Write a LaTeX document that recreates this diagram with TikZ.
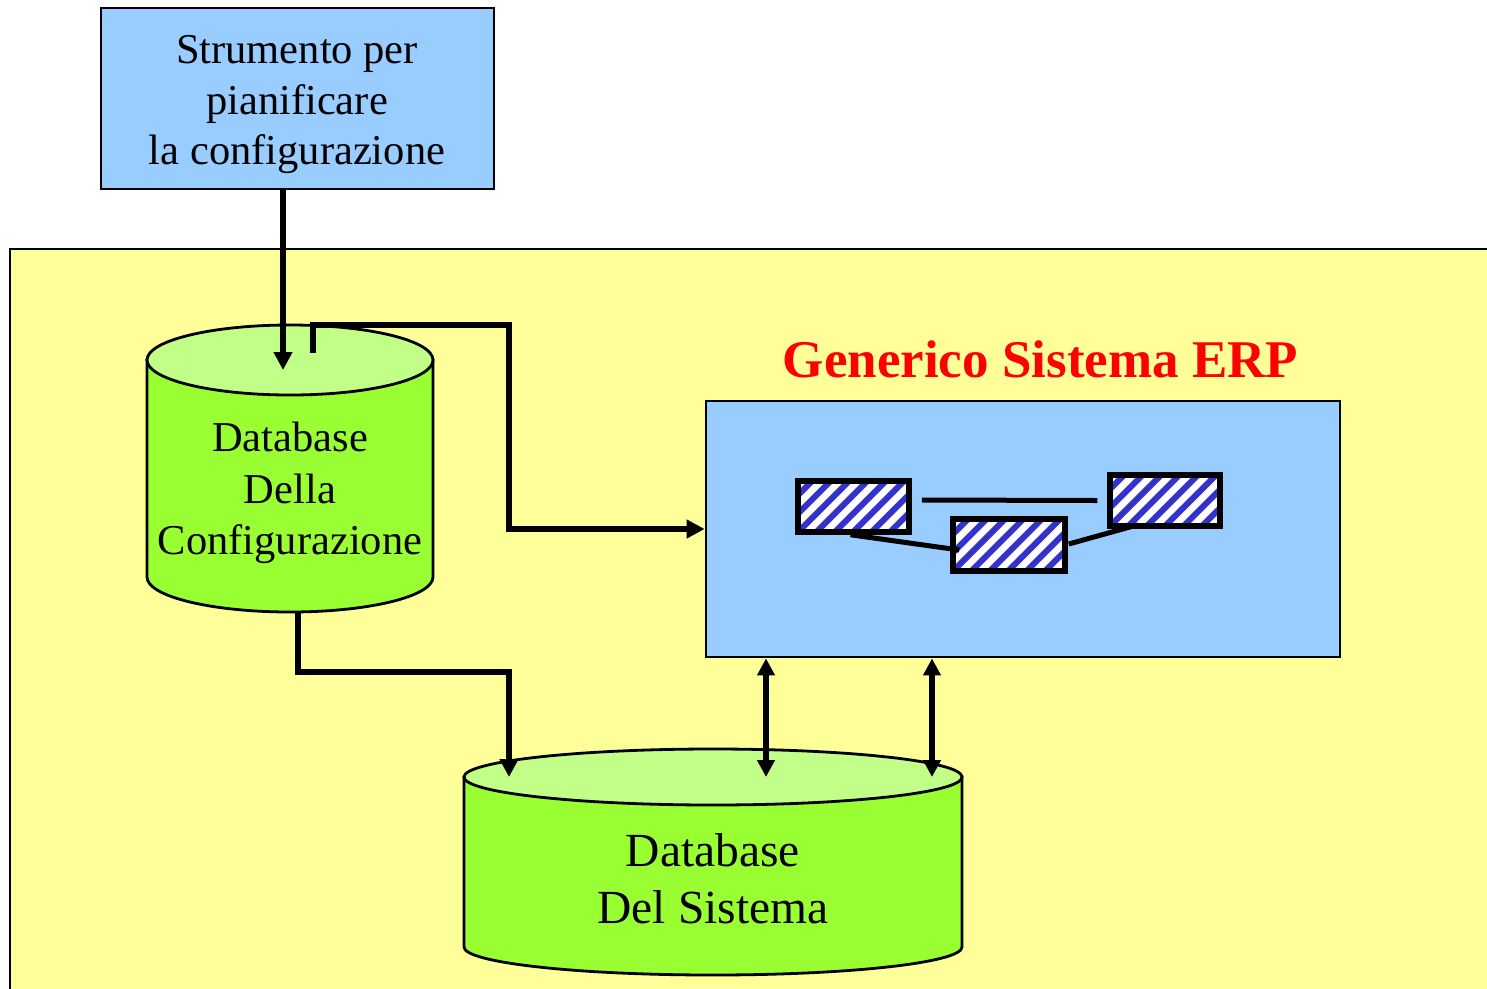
\documentclass[tikz,border=0pt]{standalone}
\usepackage{fontspec}
\setmainfont{Liberation Serif}
\usetikzlibrary{arrows.meta}
\definecolor{boxblue}{HTML}{99CCFF}
\definecolor{paleyellow}{HTML}{FFFF99}
\definecolor{dbgreen}{HTML}{99FF33}
\definecolor{dbtop}{HTML}{C2FF88}
\definecolor{stripeblue}{HTML}{3333CC}
\tikzset{
  panel/.style={draw=black, line width=2.8pt, fill=boxblue, inner sep=0pt},
  label/.style={align=center, inner sep=0pt},
  wire/.style={line width=5.5pt, line join=miter},
  arr/.style={wire, -{Triangle[length=18pt,width=18pt]}},
  dblarr/.style={wire, {Triangle[length=17pt,width=17pt]}-{Triangle[length=17pt,width=17pt]}},
  module/.style={draw=black, line width=5.5pt, inner sep=0pt, fill=white,
    path picture={
      \foreach \k in {-4,...,7}
        \draw[stripeblue, line width=6pt]
          ([xshift=\k*18.4pt]path picture bounding box.south west) -- ++(80,-80);
    }},
  dbline/.style={draw=black, line width=2.8pt}
}
\begin{document}
\begin{tikzpicture}[x=1pt,y=-1pt]
\useasboundingbox (0,0) rectangle (1487,988);
\clip (0,0) rectangle (1487,988);

% yellow system area
\draw[line width=2.8pt, fill=paleyellow] (10,249) rectangle (1500,1000);

% planning tool
\node[panel, minimum width=393pt, minimum height=181pt] (tool) at (297.5,98.5) {};
\node[label, font=\fontsize{42.5}{50.5}\selectfont] (tooltext) at (297,105)
  {Strumento per\\pianificare\\la configurazione};

% configuration database (cylinder)
\coordinate (cfgtop) at (290,360);
\path[dbline, fill=dbgreen] (147,360) -- (147,577)
  arc[start angle=180, end angle=0, x radius=143, y radius=35] -- (433,360) -- cycle;
\path[dbline, fill=dbtop] (cfgtop) ellipse [x radius=143, y radius=35];
\node[label, font=\fontsize{42.5}{51.5}\selectfont] (cfgtext) at (290,493)
  {Database\\Della\\Configurazione};

% system database (cylinder)
\coordinate (systop) at (713,777);
\path[dbline, fill=dbgreen] (464,777) -- (464,947)
  arc[start angle=180, end angle=0, x radius=249, y radius=28] -- (962,777) -- cycle;
\path[dbline, fill=dbtop] (systop) ellipse [x radius=249, y radius=28];
\node[label, font=\fontsize{47.5}{57}\selectfont] (systext) at (713,879)
  {Database\\Del Sistema};

% ERP system
\node[font=\bfseries\fontsize{53}{60}\selectfont, text=red, anchor=base, inner sep=0pt]
  (erptitle) at (1040.5,377) {Generico Sistema ERP};
\node[panel, minimum width=634pt, minimum height=256pt] (erp) at (1023,529) {};

% modules inside the ERP
\node[module, minimum width=111pt, minimum height=51pt] (m1) at (853.5,506.5) {};
\node[module, minimum width=112pt, minimum height=52pt] (m2) at (1009,545) {};
\node[module, minimum width=110pt, minimum height=51pt] (m3) at (1165,500.5) {};
\draw[line width=5pt] ([shift={(10,-6.5)}]m1.east) -- ([shift={(-10,0)}]m3.west);
\draw[line width=5pt] ([xshift=-3]m1.south) -- ([shift={(9,5)}]m2.west);
\draw[line width=5pt] ([shift={(1,-1)}]m2.east) -- ([shift={(-27,-4)}]m3.south);

% connectors
\coordinate (cfgin) at (283,370);
\draw[arr] (tool.south -| cfgin) -- (cfgin);

\coordinate (cfgout) at (313,353);
\draw[arr] (cfgout) -- (313,325) -- (509,325) -- (509,529) -- (erp.west);

\coordinate (cfgdown) at (298,612);
\coordinate (sysin) at (509,777);
\draw[arr] (cfgdown) -- (298,672) -- (509,672) -- (sysin);

\coordinate (sysA) at (766,777);
\coordinate (sysB) at (932,777);
\draw[dblarr] (erp.south -| sysA) -- (sysA);
\draw[dblarr] (erp.south -| sysB) -- (sysB);
\end{tikzpicture}
\end{document}
